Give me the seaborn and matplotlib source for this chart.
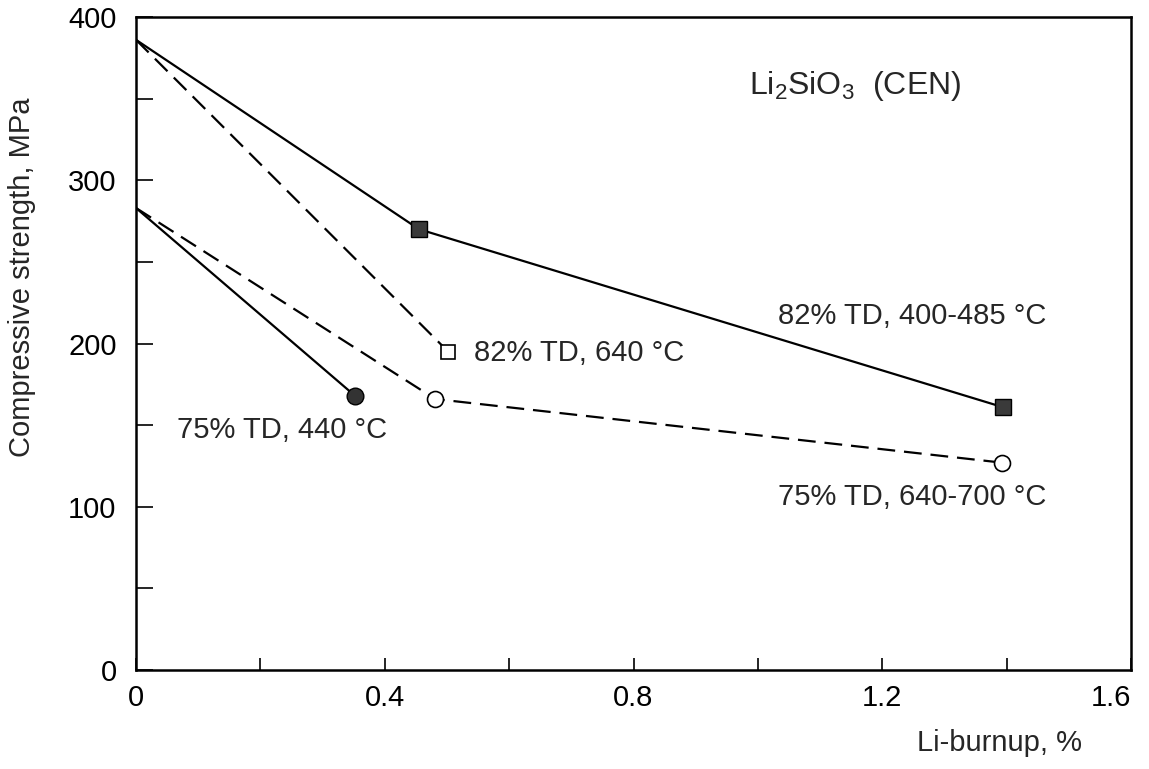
import matplotlib
matplotlib.use("Agg")
import matplotlib.pyplot as plt
import seaborn as sns
from matplotlib.ticker import MultipleLocator

# Data
x_82_low = [0.0, 0.455, 1.394]
y_82_low = [386, 270, 161]

x_82_640 = [0.0, 0.502]
y_82_640 = [386, 195]

x_75_high = [0.0, 0.481, 1.393]
y_75_high = [283, 166, 127]

x_75_440 = [0.0, 0.352]
y_75_440 = [283, 168]

x_ticks = [0, 0.4, 0.8, 1.2, 1.6]
x_tick_labels = ["0", "0.4", "0.8", "1.2", "1.6"]
y_ticks = [0, 100, 200, 300, 400]

# Style
sns.set_style("ticks")
plt.rcParams["font.family"] = ["Liberation Sans", "DejaVu Sans"]
plt.rcParams["mathtext.fontset"] = "custom"
plt.rcParams["mathtext.rm"] = "Liberation Sans"
plt.rcParams["mathtext.it"] = "Liberation Sans"

fig = plt.figure(figsize=(11.49, 7.69), dpi=100)
ax = fig.add_axes([0.1184, 0.1287, 0.866, 0.8492])

dash = (8, 4)
sns.lineplot(x=x_82_low, y=y_82_low, color="black", lw=1.6, ax=ax, sort=False)
sns.lineplot(x=x_82_640, y=y_82_640, color="black", lw=1.6, ax=ax, sort=False,
             linestyle=(0, dash))
sns.lineplot(x=x_75_high, y=y_75_high, color="black", lw=1.6, ax=ax, sort=False,
             linestyle=(0, dash))
sns.lineplot(x=x_75_440, y=y_75_440, color="black", lw=1.6, ax=ax, sort=False)

# markers (not at the origin)
ax.plot(x_82_low[1:], y_82_low[1:], ls="none", marker="s", ms=11, mfc="#3a3a3a", mec="black", zorder=5)
ax.plot(x_82_640[1:], y_82_640[1:], ls="none", marker="s", ms=10, mfc="white", mec="black", mew=1.2, zorder=5)
ax.plot(x_75_high[1:], y_75_high[1:], ls="none", marker="o", ms=11.5, mfc="white", mec="black", mew=1.2, zorder=5)
ax.plot(x_75_440[1:], y_75_440[1:], ls="none", marker="o", ms=12, mfc="#333333", mec="black", zorder=5)

ax.set_xlim(0, 1.6)
ax.set_ylim(0, 400)
ax.set_xticks(x_ticks)
ax.set_xticklabels(x_tick_labels)
ax.set_yticks(y_ticks)
ax.xaxis.set_minor_locator(MultipleLocator(0.2))
ax.yaxis.set_minor_locator(MultipleLocator(50))
ax.tick_params(axis="both", which="both", direction="in", top=False, right=False,
               width=1.2, labelsize=21, colors="black")
ax.tick_params(axis="x", which="both", length=9, pad=10)
ax.tick_params(axis="y", which="both", length=12, pad=14)
ax.get_xticklabels()[-1].set_horizontalalignment("right")
for s in ax.spines.values():
    s.set_linewidth(1.8)
    s.set_color("black")

fig.text(0.019, 0.64, "Compressive strength, MPa", fontsize=21, rotation=90,
         ha="center", va="center")
fig.text(0.942, 0.034, "Li-burnup, %", fontsize=21, ha="right", va="center")

# annotations
fs = 21
ax.text(0.985, 358, r"Li$_2$SiO$_3$  (CEN)", fontsize=23, va="center")
ax.text(1.032, 217, "82% TD, 400-485 \u00b0C", fontsize=fs, va="center")
ax.text(0.543, 194, "82% TD, 640 \u00b0C", fontsize=fs, va="center")
ax.text(0.066, 147, "75% TD, 440 \u00b0C", fontsize=fs, va="center")
ax.text(1.032, 106, "75% TD, 640-700 \u00b0C", fontsize=fs, va="center")

fig.savefig("out.png", dpi=100)
